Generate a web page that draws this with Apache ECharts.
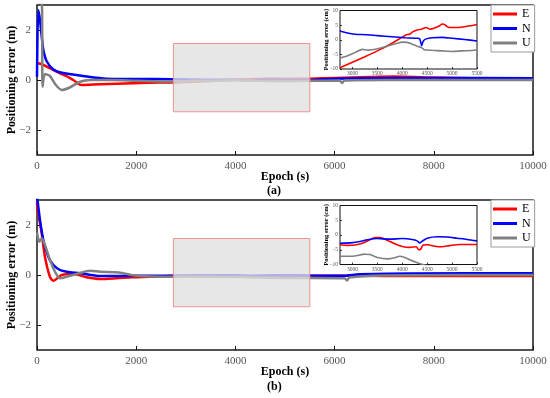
<!DOCTYPE html>
<html><head><meta charset="utf-8">
<script src="https://cdn.jsdelivr.net/npm/echarts@6/dist/echarts.min.js"></script>
<style>html,body{margin:0;padding:0;background:#fff}#c{width:550px;height:398px}</style>
</head><body><div id="c"></div>
<script>
// ---- data ----
const seriesNames = ['E', 'N', 'U'];
const seriesColors = ['#ff0000', '#0000ff', '#808080'];
const mainXTicks = [0, 2000, 4000, 6000, 8000, 10000];
const mainYTicks = [-2, 0, 2];
const insetXTicks = [3000, 3500, 4000, 4500, 5000, 5500];
const insetYTicks = [-10, -5, 0, 5, 10];
const zoomX = [2750, 5500];
const zoomY = [-1.27, 1.46];

// panel (a) main, metres
const E_a = [[0,0.68],[100,0.63],[260,0.47],[460,0.27],[600,0.15],[730,0.0],[900,-0.2],[1270,-0.17],[1940,-0.13],[2500,-0.1],[2750,-0.096],[3000,-0.077],[3500,-0.038],[4000,0.009],[4300,0.033],[4500,0.04],[4800,0.054],[5000,0.042],[5500,0.052],[6000,0.08],[6700,0.12],[7200,0.14],[8000,0.1],[9000,0.06],[10000,0.04]];
const N_a = [[0,0.13],[25,2.8],[60,2.4],[95,1.75],[128,1.2],[195,0.75],[330,0.42],[500,0.29],[930,0.16],[1400,0.05],[2000,0.04],[2750,0.03],[3300,0.017],[4000,0.007],[4390,-0.02],[4450,0.0],[4800,0.008],[5500,-0.004],[6000,0.05],[6500,0.07],[8000,0.08],[10000,0.07]];
const U_a = [[0,3.3],[60,3.1],[100,3.0],[112,-0.27],[160,0.24],[260,0.16],[380,-0.2],[500,-0.4],[660,-0.3],[870,-0.07],[1070,0.0],[1500,0.0],[2000,-0.03],[2750,-0.063],[3200,-0.033],[3500,-0.031],[4000,-0.008],[4300,-0.022],[4440,-0.034],[5000,-0.04],[5500,-0.034],[6100,-0.02],[6150,-0.12],[6200,-0.02],[7000,0.0],[10000,0.0]];

// panel (a) inset, cm
const E_ai = [[2750,-9.6],[3000,-7.7],[3250,-5.8],[3500,-3.8],[3750,-1.6],[4000,0.9],[4100,1.8],[4150,1.9],[4200,2.6],[4300,3.3],[4400,3.7],[4480,4.2],[4560,3.6],[4650,4.0],[4750,4.8],[4800,5.4],[4850,5.2],[4900,4.5],[4950,4.2],[5100,4.2],[5300,4.6],[5500,5.2]];
const N_ai = [[2750,3.0],[2900,2.3],[3050,1.9],[3300,1.7],[3500,1.4],[3800,1.0],[4050,0.7],[4300,0.5],[4350,0.3],[4390,-2.0],[4420,-0.5],[4480,0.3],[4600,0.7],[4800,0.8],[5000,0.5],[5250,0.1],[5500,-0.4]];
const U_ai = [[2750,-6.3],[2900,-5.5],[3050,-4.4],[3200,-3.3],[3300,-3.6],[3500,-3.1],[3700,-2.2],[3900,-1.2],[4000,-0.8],[4100,-0.9],[4200,-1.5],[4300,-2.2],[4380,-2.6],[4440,-3.4],[4600,-3.6],[4800,-3.8],[5000,-4.0],[5200,-3.8],[5400,-3.7],[5500,-3.4]];

// panel (b) main, metres
const E_b = [[0,2.9],[14,2.6],[95,1.67],[160,0.73],[260,-0.07],[330,-0.23],[410,-0.13],[500,0.0],[730,0.04],[1000,-0.09],[1270,-0.16],[1600,-0.13],[1940,-0.09],[2280,-0.07],[2750,-0.033],[3450,-0.009],[4000,-0.039],[4330,-0.05],[5000,-0.036],[5500,-0.032],[6200,-0.03],[7000,-0.04],[10000,-0.04]];
const N_b = [[0,3.1],[14,2.93],[60,2.2],[127,1.4],[228,0.73],[330,0.4],[464,0.2],[600,0.13],[870,0.07],[1270,-0.04],[2000,-0.03],[2750,-0.028],[3500,-0.012],[4000,-0.012],[4350,-0.027],[4700,-0.006],[5500,-0.02],[6200,-0.03],[6500,0.03],[7500,0.06],[10000,0.07]];
const U_b = [[0,1.7],[47,1.33],[95,1.47],[160,1.2],[262,0.6],[363,0.13],[464,-0.13],[565,-0.09],[800,0.04],[1070,0.17],[1270,0.13],[1650,0.1],[2000,-0.03],[2750,-0.072],[3250,-0.065],[3700,-0.081],[4150,-0.084],[4450,-0.102],[5000,-0.12],[5500,-0.12],[6200,-0.13],[6250,-0.22],[6300,-0.1],[7000,-0.02],[10000,0.0]];

// panel (b) inset, cm
const E_bi = [[2750,-3.3],[2900,-3.5],[3050,-3.4],[3200,-2.8],[3350,-1.6],[3450,-0.9],[3550,-0.9],[3700,-1.8],[3850,-3.0],[4000,-3.9],[4150,-4.2],[4280,-4.0],[4330,-5.0],[4370,-4.8],[4420,-3.4],[4500,-3.3],[4650,-3.8],[4800,-4.0],[4950,-3.6],[5150,-3.2],[5350,-3.2],[5500,-3.2]];
const N_bi = [[2750,-2.8],[3000,-2.6],[3150,-2.2],[3300,-1.6],[3500,-1.2],[3750,-1.4],[4000,-1.2],[4200,-1.5],[4300,-2.0],[4350,-2.7],[4400,-2.1],[4500,-1.1],[4700,-0.6],[4900,-0.7],[5100,-1.1],[5300,-1.5],[5500,-2.0]];
const U_bi = [[2750,-7.2],[3000,-7.2],[3250,-6.5],[3350,-6.6],[3500,-7.6],[3700,-8.1],[3850,-7.7],[3950,-7.2],[4050,-7.6],[4150,-8.4],[4300,-9.4],[4450,-10.2],[4600,-10.8],[5000,-11.5],[5500,-12]];

const panelLabels = ['(a)', '(b)'];
const mainYName = 'Positioning error (m)';
const insetYName = 'Positioning error (cm)';
const xName = 'Epoch (s)';

// ---- chart ----
const SERIF = '"Liberation Serif", "Times New Roman", serif';
const chart = echarts.init(document.getElementById('c'), null, {renderer: 'canvas'});
const fmt = v => String(v).replace('-', '\u2212');

function mainX(gi) {
  return {gridIndex: gi, type: 'value', min: 0, max: 10000, interval: 2000,
    axisLine: {show: false, onZero: false}, splitLine: {show: false},
    axisTick: {inside: true, length: 4, customValues: mainXTicks, lineStyle: {color: '#111', width: 1}},
    axisLabel: {color: '#555', fontFamily: SERIF, fontSize: 11, margin: 6, customValues: mainXTicks, formatter: fmt},
    name: xName, nameLocation: 'middle', nameGap: 16, nameMoveOverlap: false,
    nameTextStyle: {fontFamily: SERIF, fontWeight: 'bold', fontSize: 12, color: '#000'}};
}
function mainY(gi) {
  return {gridIndex: gi, type: 'value', min: -3, max: 3,
    axisLine: {show: false, onZero: false}, splitLine: {show: false},
    axisTick: {inside: true, length: 4, customValues: mainYTicks, lineStyle: {color: '#111'}},
    axisLabel: {color: '#555', fontFamily: SERIF, fontSize: 11, margin: 6, customValues: mainYTicks, formatter: fmt},
    name: mainYName, nameLocation: 'middle', nameGap: 19, nameRotate: 90, nameMoveOverlap: false,
    nameTextStyle: {fontFamily: SERIF, fontWeight: 'bold', fontSize: 12, color: '#000'}};
}
function insetX(gi) {
  return {gridIndex: gi, type: 'value', min: zoomX[0], max: zoomX[1],
    axisLine: {show: false, onZero: false}, splitLine: {show: false},
    axisTick: {inside: true, length: 2, customValues: insetXTicks, lineStyle: {color: '#111', width: 0.8}},
    axisLabel: {color: '#555', fontFamily: SERIF, fontSize: 5.5, margin: 2, customValues: insetXTicks, formatter: fmt}};
}
function insetY(gi) {
  return {gridIndex: gi, type: 'value', min: -10, max: 10,
    axisLine: {show: false, onZero: false}, splitLine: {show: false},
    axisTick: {inside: true, length: 2, customValues: insetYTicks, lineStyle: {color: '#111', width: 0.8}},
    axisLabel: {color: '#555', fontFamily: SERIF, fontSize: 5.5, margin: 2, customValues: insetYTicks, formatter: fmt},
    name: insetYName, nameLocation: 'middle', nameGap: 10, nameRotate: 90, nameMoveOverlap: false,
    nameTextStyle: {fontFamily: SERIF, fontWeight: 'bold', fontSize: 6.5, color: '#000'}};
}

const series = [];
function addLines(datas, axisIdx, width) {
  datas.forEach((d, i) => {
    series.push({type: 'line', name: seriesNames[i], xAxisIndex: axisIdx, yAxisIndex: axisIdx,
      data: d, showSymbol: false, symbol: 'none', smooth: 0.25, clip: true, animation: false,
      color: seriesColors[i], lineStyle: {color: seriesColors[i], width: width}, z: 2});
  });
}
addLines([E_a, N_a, U_a], 0, 2.5);
addLines([E_b, N_b, U_b], 1, 2.5);
addLines([E_ai, N_ai, U_ai], 2, 1.6);
addLines([E_bi, N_bi, U_bi], 3, 1.6);

[0, 1].forEach(ai => {
  series.push({type: 'custom', xAxisIndex: ai, yAxisIndex: ai, z: 3, animation: false, silent: true,
    data: [[zoomX[0], zoomX[1], zoomY[0], zoomY[1]]],
    renderItem: (params, api) => {
      const p0 = api.coord([api.value(0), api.value(3)]);
      const p1 = api.coord([api.value(1), api.value(2)]);
      return {type: 'rect', shape: {x: p0[0], y: p0[1], width: p1[0] - p0[0], height: p1[1] - p0[1]},
        style: {fill: 'rgba(224,224,224,0.78)', stroke: '#f29090', lineWidth: 1}};
    }});
});

function legend(top) {
  return {show: true, orient: 'vertical', left: 491, top: top, data: seriesNames,
    icon: 'rect', itemWidth: 24, itemHeight: 3, itemGap: 2.5, selectedMode: false,
    backgroundColor: '#fff', borderColor: '#9a9a9a', borderWidth: 1, borderRadius: 0,
    padding: [3, 4, 3, 2],
    textStyle: {fontFamily: SERIF, fontSize: 12, color: '#000', lineHeight: 12}};
}

const gridBase = {show: true, outerBoundsMode: 'none', containLabel: false};
chart.setOption({
  animation: false,
  backgroundColor: '#fff',
  grid: [
    Object.assign({left: 37, top: 5, width: 496, height: 150, borderColor: '#1a1a1a', borderWidth: 1.5, backgroundColor: 'transparent'}, gridBase),
    Object.assign({left: 37, top: 200, width: 496, height: 150, borderColor: '#1a1a1a', borderWidth: 1.5, backgroundColor: 'transparent'}, gridBase),
    Object.assign({left: 340, top: 10.5, width: 137, height: 58.5, borderColor: '#111', borderWidth: 1, backgroundColor: '#fff'}, gridBase),
    Object.assign({left: 340, top: 205.5, width: 137, height: 59, borderColor: '#111', borderWidth: 1, backgroundColor: '#fff'}, gridBase)
  ],
  xAxis: [mainX(0), mainX(1), insetX(2), insetX(3)],
  yAxis: [mainY(0), mainY(1), insetY(2), insetY(3)],
  legend: [legend(5), legend(200)],
  series: series,
  graphic: [
    {type: 'text', left: 267, top: 185, style: {text: panelLabels[0], font: 'bold 12px ' + SERIF, fill: '#000'}},
    {type: 'text', left: 267, top: 381, style: {text: panelLabels[1], font: 'bold 12px ' + SERIF, fill: '#000'}}
  ]
});
</script></body></html>
